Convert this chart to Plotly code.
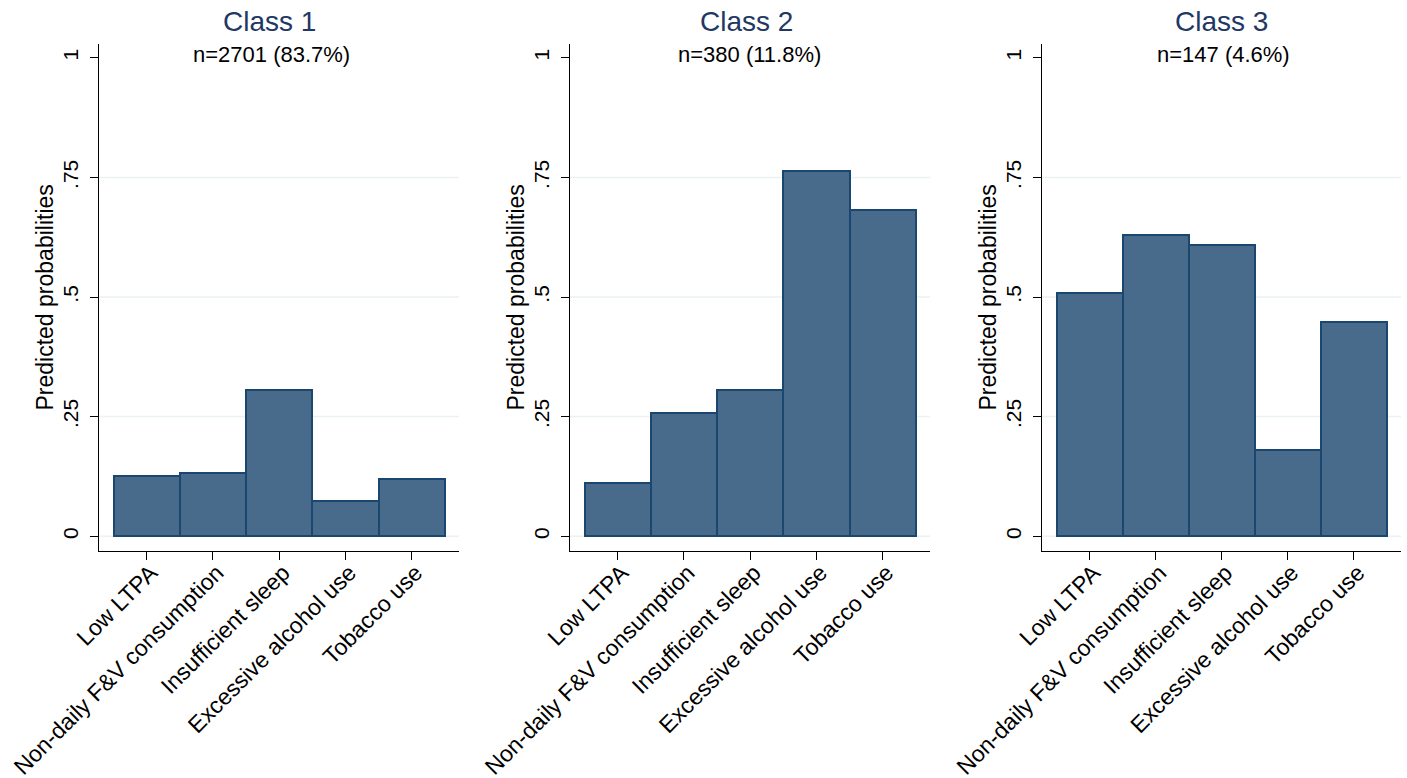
import plotly.graph_objects as go

categories = ["Low LTPA", "Non-daily F&V consumption", "Insufficient sleep",
              "Excessive alcohol use", "Tobacco use"]
class1 = [0.126, 0.132, 0.305, 0.073, 0.119]
class2 = [0.112, 0.258, 0.306, 0.764, 0.682]
class3 = [0.509, 0.630, 0.609, 0.180, 0.448]
series = [class1, class2, class3]
panel_titles = ["Class 1", "Class 2", "Class 3"]
panel_subtitles = ["n=2701 (83.7%)", "n=380 (11.8%)", "n=147 (4.6%)"]
y_title = "Predicted probabilities"
ytick_vals = [0, 0.25, 0.5, 0.75, 1]
ytick_text = ["0", ".25", ".5", ".75", "1"]
grid_vals = [0, 0.25, 0.5, 0.75]

W, H = 1407, 778
FONT = "Liberation Sans, Arial, Helvetica, sans-serif"
BAR_FILL = "#486A8B"
BAR_LINE = "#1A476F"
GRID = "#EAF2F3"
TITLE_COL = "#1F3864"

# pixel layout
x_doms_px = [(99, 459), (570, 930), (1042, 1401)]
title_x_px = [269, 747, 1221]
ytitle_x_px = [44, 515, 987]
y_top_px, y_bot_px = 44, 551

fig = go.Figure()
layout = dict(
    width=W, height=H,
    margin=dict(l=0, r=0, t=0, b=0, autoexpand=False),
    paper_bgcolor="white", plot_bgcolor="white",
    showlegend=False,
    bargap=0,
    font=dict(family=FONT, color="black"),
)
shapes = []
annotations = []
for i, vals in enumerate(series):
    sfx = "" if i == 0 else str(i + 1)
    fig.add_trace(go.Bar(
        x=categories, y=vals, width=1,
        marker=dict(color=BAR_FILL, line=dict(color=BAR_LINE, width=2)),
        xaxis="x" + sfx, yaxis="y" + sfx, hoverinfo="x+y",
    ))
    x0, x1 = x_doms_px[i]
    layout["xaxis" + sfx] = dict(
        domain=[x0 / W, x1 / W], anchor="y" + sfx,
        type="category", range=[-0.72, 4.714], automargin=False,
        showline=True, linecolor="black", linewidth=1.3,
        ticks="outside", ticklen=8, tickwidth=1.2, tickcolor="black",
        tickangle=-45, tickfont=dict(size=23, family=FONT, color="black"),
        ticklabelstandoff=-10, ticklabelshift=4,
        showgrid=False, zeroline=False, fixedrange=True,
    )
    layout["yaxis" + sfx] = dict(
        domain=[1 - y_bot_px / H, 1 - y_top_px / H], anchor="x" + sfx,
        range=[-0.031, 1.029], automargin=False,
        tickvals=ytick_vals, ticktext=ytick_text,
        showline=True, linecolor="black", linewidth=1.3,
        ticks="outside", ticklen=8, tickwidth=1.2, tickcolor="black",
        tickangle=-90, tickfont=dict(size=21, family=FONT, color="black"),
        ticklabelstandoff=3,
        showgrid=False, zeroline=False, fixedrange=True,
    )
    for g in grid_vals:
        shapes.append(dict(type="line", xref="x" + sfx + " domain", yref="y" + sfx,
                           x0=0, x1=1, y0=g, y1=g, layer="below",
                           line=dict(color=GRID, width=1.5)))
    annotations.append(dict(text=panel_titles[i], xref="paper", yref="paper",
                            x=title_x_px[i] / W, y=1 - 22 / H,
                            xanchor="center", yanchor="middle", showarrow=False,
                            font=dict(size=28, family=FONT, color=TITLE_COL)))
    annotations.append(dict(text=panel_subtitles[i], xref="paper", yref="paper",
                            x=(title_x_px[i] + 2) / W, y=1 - 55 / H,
                            xanchor="center", yanchor="middle", showarrow=False,
                            font=dict(size=22, family=FONT, color="black")))
    annotations.append(dict(text=y_title, xref="paper", yref="paper",
                            x=ytitle_x_px[i] / W,
                            y=1 - (y_top_px + y_bot_px) / 2 / H,
                            xanchor="center", yanchor="middle", textangle=-90,
                            showarrow=False,
                            font=dict(size=23, family=FONT, color="black")))

layout["shapes"] = shapes
layout["annotations"] = annotations
fig.update_layout(**layout)
fig.write_html("out.html", config={"displayModeBar": False},
               post_script="document.body.style.margin='0';document.body.style.overflow='hidden';")
